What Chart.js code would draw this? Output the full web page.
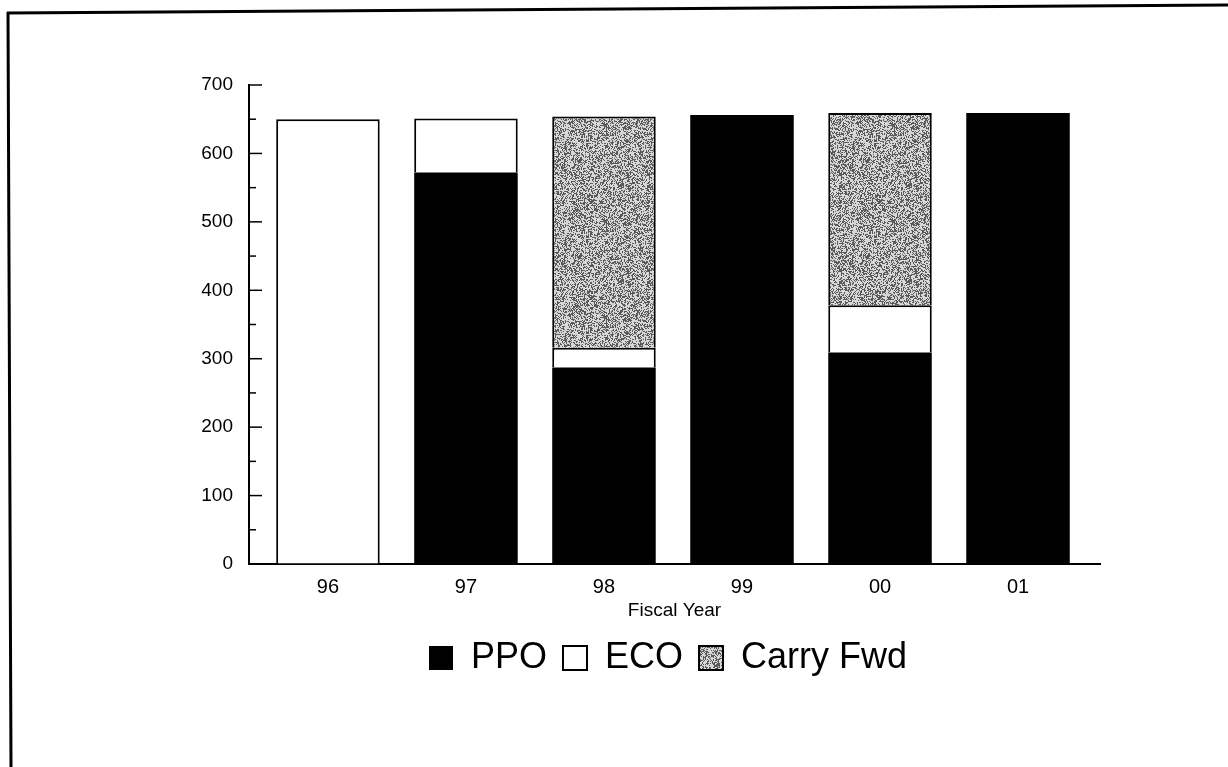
<!DOCTYPE html>
<html>
<head>
<meta charset="utf-8">
<script src="https://cdn.jsdelivr.net/npm/chart.js@4.4.1/dist/chart.umd.min.js"></script>
<style>
html, body { margin: 0; padding: 0; background: #fff; }
</style>
</head>
<body>
<canvas id="chart" width="1228" height="767"></canvas>
<script>
// values
const years = ["96", "97", "98", "99", "00", "01"];
const ppo = [0, 572, 287, 656, 309, 659];
const eco = [650, 79, 29, 0, 69, 0];
const carryFwd = [0, 0, 338, 0, 281, 0];
const yMax = 700;

// speckled grey fill like the photocopied shading
function makeSpeckle(){
    const c = document.createElement("canvas");
    c.width = 96; c.height = 96;
    const g = c.getContext("2d");
    const img = g.createImageData(96, 96);
    for(let y = 0; y < 96; ++y){
        for(let x = 0; x < 96; ++x){
            let h = (x * 374761393 + y * 668265263) | 0;
            h = (h ^ (h >>> 13)) * 1274126177 | 0;
            h = (h ^ (h >>> 16)) & 255;
            const v = h < 110 ? 90 : 215;
            const k = (y * 96 + x) * 4;
            img.data[k] = v; img.data[k+1] = v; img.data[k+2] = v; img.data[k+3] = 255;
        }
    }
    g.putImageData(img, 0, 0);
    return g.createPattern(c, "repeat");
}

function points(arr){
    return arr.map((v, i) => ({x: i, y: v}));
}

// small ticks drawn inside the y axis
const innerTicks = {
    id: "innerTicks",
    afterDatasetsDraw(chart){
        const ys = chart.scales.y;
        const ctx = chart.ctx;
        ctx.save();
        ctx.strokeStyle = "#000";
        ctx.lineWidth = 1.5;
        ys.ticks.forEach(t => {
            const py = ys.getPixelForValue(t.value);
            const len = t.value % 100 === 0 ? 13 : 7;
            ctx.beginPath();
            ctx.moveTo(ys.right, py);
            ctx.lineTo(ys.right + len, py);
            ctx.stroke();
        });
        ctx.restore();
    }
};

// legend sits right of the chart centre in the original
const legendShift = {
    id: "legendShift",
    afterLayout(chart){
        chart.legend.left += 118;
        chart.legend.right += 118;
    }
};

// page frame (top and left edges of the scanned sheet)
const pageFrame = {
    id: "pageFrame",
    afterDraw(chart){
        const ctx = chart.ctx;
        ctx.save();
        ctx.strokeStyle = "#000";
        ctx.lineWidth = 3;
        ctx.beginPath();
        ctx.moveTo(7, 13);
        ctx.lineTo(1228, 5);
        ctx.moveTo(8, 12);
        ctx.lineTo(11, 767);
        ctx.stroke();
        ctx.restore();
    }
};

const ctx = document.getElementById("chart");
const chart = new Chart(ctx, {
    type: "bar",
    data: {
        datasets: [
            {
                label: "PPO",
                data: points(ppo),
                backgroundColor: "#000",
                borderColor: "#000",
                borderWidth: 0
            },
            {
                label: "ECO",
                data: points(eco),
                backgroundColor: "#fff",
                borderColor: "#000",
                borderWidth: 2,
                borderSkipped: "start"
            },
            {
                label: "Carry Fwd",
                data: points(carryFwd),
                backgroundColor: makeSpeckle(),
                borderColor: "#000",
                borderWidth: 2,
                borderSkipped: "start"
            }
        ]
    },
    options: {
        responsive: false,
        devicePixelRatio: 1,
        animation: false,
        categoryPercentage: 0.75,
        barPercentage: 1,
        layout: {
            padding: {top: 85, right: 128, bottom: 81, left: 0}
        },
        scales: {
            x: {
                type: "linear",
                stacked: true,
                offset: false,
                min: -0.572,
                max: 5.594,
                afterFit: (s) => { s.height = 60; },
                grid: {display: false, drawTicks: false},
                border: {display: true, color: "#000", width: 2},
                ticks: {
                    stepSize: 1,
                    includeBounds: false,
                    autoSkip: false,
                    maxRotation: 0,
                    padding: 11,
                    color: "#000",
                    font: {family: "Liberation Sans", size: 20},
                    callback: (v) => Number.isInteger(v) && years[v] !== undefined ? years[v] : ""
                },
                title: {
                    display: true,
                    text: "Fiscal Year",
                    color: "#000",
                    padding: {top: 2, bottom: 2},
                    font: {family: "Liberation Sans", size: 19}
                }
            },
            y: {
                stacked: true,
                min: 0,
                max: yMax,
                afterFit: (s) => { s.width = 249; },
                grid: {display: true, drawOnChartArea: false, drawTicks: false, color: "rgba(0,0,0,0)"},
                border: {display: true, color: "#000", width: 2},
                ticks: {
                    stepSize: 50,
                    autoSkip: false,
                    padding: 16,
                    color: "#000",
                    font: {family: "Liberation Sans", size: 19},
                    callback: (v) => v % 100 === 0 ? v : ""
                }
            }
        },
        plugins: {
            tooltip: {enabled: false},
            legend: {
                position: "bottom",
                labels: {
                    color: "#000",
                    boxWidth: 24,
                    boxHeight: 24,
                    padding: 16,
                    font: {family: "Liberation Sans", size: 36}
                }
            }
        }
    },
    plugins: [innerTicks, legendShift, pageFrame]
});
</script>
</body>
</html>
